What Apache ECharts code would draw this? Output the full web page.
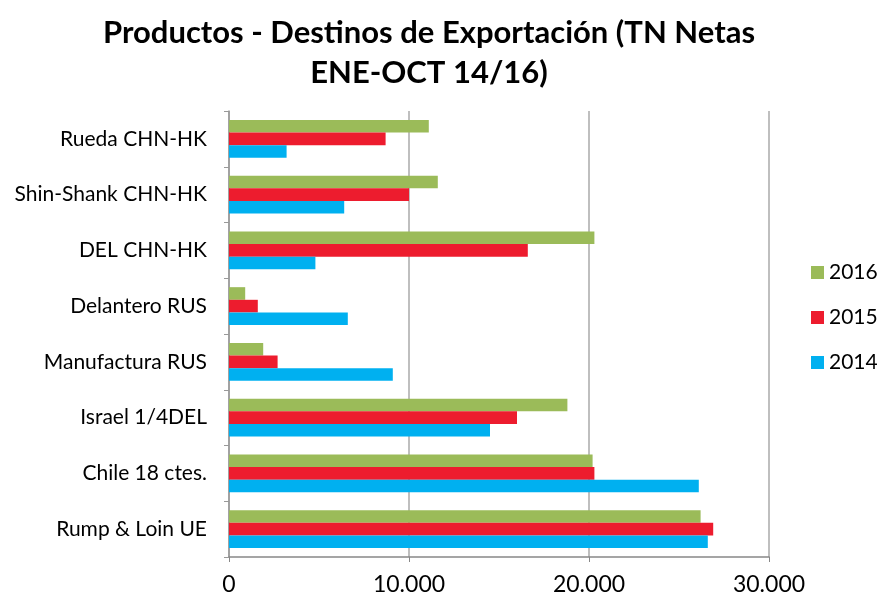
<!DOCTYPE html>
<html>
<head>
<meta charset="utf-8">
<script src="https://cdn.jsdelivr.net/npm/echarts@6/dist/echarts.min.js"></script>
<style>
  html, body { margin: 0; padding: 0; background: #fff; }
  #chart { width: 877px; height: 599px; }
</style>
</head>
<body>
<div id="chart"></div>
<script>
// categories, bottom to top
var categories = ['Rump & Loin UE', 'Chile 18 ctes.', 'Israel 1/4DEL', 'Manufactura RUS',
  'Delantero RUS', 'DEL CHN-HK', 'Shin-Shank CHN-HK', 'Rueda CHN-HK']
var values2014 = [26600, 26100, 14500, 9100, 6600, 4800, 6400, 3200]
var values2015 = [26900, 20300, 16000, 2700, 1600, 16600, 10000, 8700]
var values2016 = [26200, 20200, 18800, 1900, 900, 20300, 11600, 11100]
var xTicks = [0, 10000, 20000, 30000]

var chart = echarts.init(document.getElementById('chart'))

chart.setOption({
  animation: false,
  textStyle: { fontFamily: 'Lato, "Open Sans", sans-serif' },
  title: {
    text: 'Productos - Destinos de Exportación (TN Netas\nENE-OCT 14/16)',
    left: 424,
    textAlign: 'center',
    top: 8,
    textStyle: { fontSize: 31, fontWeight: 'bold', color: '#000', lineHeight: 40 }
  },
  legend: {
    orient: 'vertical',
    left: 806,
    top: 257,
    itemGap: 24,
    itemWidth: 13,
    itemHeight: 13,
    icon: 'rect',
    data: ['2016', '2015', '2014'],
    textStyle: { fontSize: 21, color: '#000' }
  },
  grid: { left: 229, right: 108, top: 111, bottom: 42 },
  xAxis: {
    type: 'value',
    min: 0,
    max: 30000,
    interval: 10000,
    axisLine: { show: true, lineStyle: { color: '#888', width: 1.5 } },
    axisTick: { show: true, length: 5, lineStyle: { color: '#888' } },
    splitLine: { lineStyle: { color: '#bfbfbf', width: 2 } },
    axisLabel: {
      fontSize: 23,
      color: '#000',
      margin: 16,
      formatter: function (v) {
        return xTicks.indexOf(v) < 0 ? '' : (v === 0 ? '0' : (v / 1000) + '.000')
      }
    }
  },
  yAxis: {
    type: 'category',
    data: categories,
    axisLine: { lineStyle: { color: '#999', width: 1.5 } },
    axisTick: { show: true, length: 5, lineStyle: { color: '#999' } },
    axisLabel: { fontSize: 21, color: '#000', margin: 22 }
  },
  // within a category the first series is drawn on top
  series: [
    {
      name: '2016',
      type: 'bar',
      data: values2016,
      itemStyle: { color: '#9bbb59' },
      barGap: '0%',
      barCategoryGap: '32%'
    },
    {
      name: '2015',
      type: 'bar',
      data: values2015,
      itemStyle: { color: '#ed1c2e' },
      barGap: '0%',
      barCategoryGap: '32%'
    },
    {
      name: '2014',
      type: 'bar',
      data: values2014,
      itemStyle: { color: '#00b0f0' },
      barGap: '0%',
      barCategoryGap: '32%'
    }
  ]
})
</script>
</body>
</html>
